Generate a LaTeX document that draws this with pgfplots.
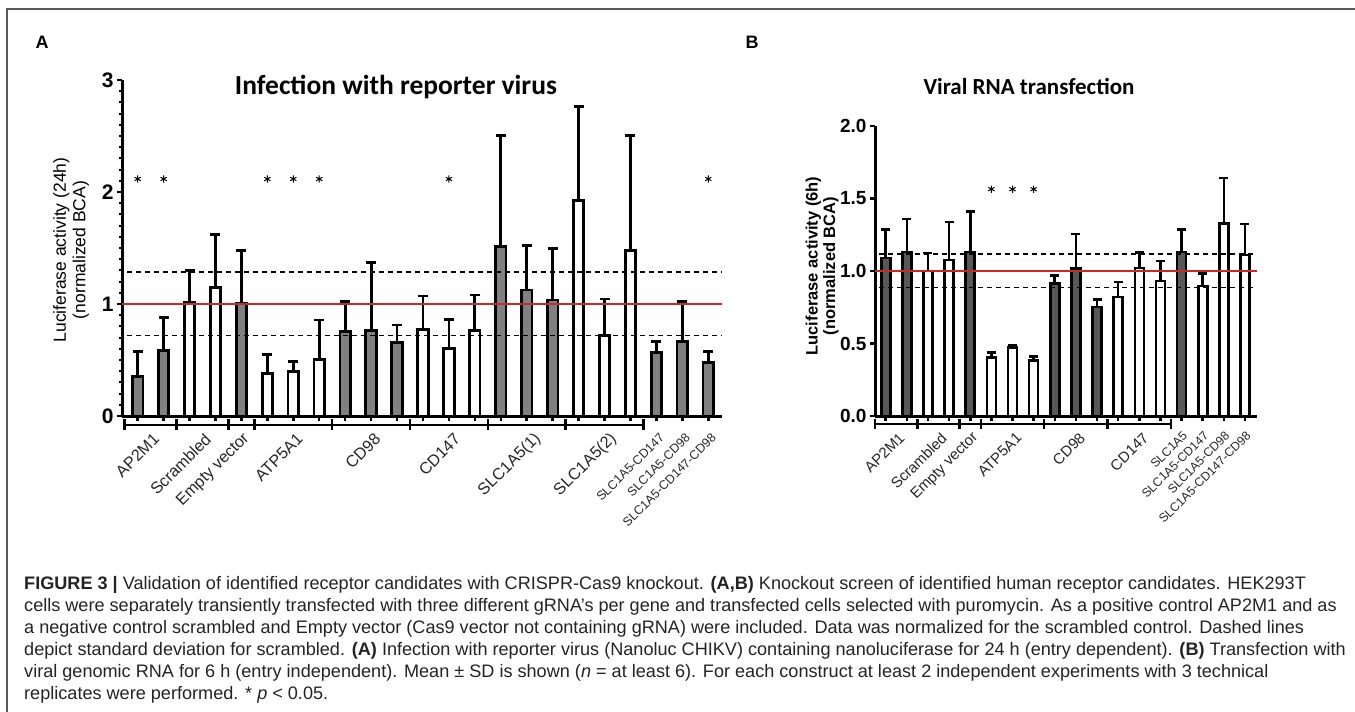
\documentclass[border=0pt]{standalone}
\usepackage{fontspec}
\setmainfont{Liberation Sans}
\newfontfamily\calfont{Carlito}
\usepackage{pgfplots}
\pgfplotsset{compat=1.18}
\usepackage{pgfplotstable}

\definecolor{grayA}{RGB}{128,128,128}
\definecolor{grayB}{RGB}{88,88,88}
\definecolor{refred}{RGB}{205,40,40}
\definecolor{framegray}{RGB}{90,90,90}
\definecolor{captext}{RGB}{35,35,35}
\newcommand{\fs}[1]{\fontsize{#1}{#1}\selectfont}

% Panel A: infection with reporter virus (24h)
\pgfplotstableread{
x y e
1 0.355 0.218
2 0.582 0.296
5 1.006 0.469
9 0.752 0.269
10 0.767 0.603
11 0.657 0.155
15 1.513 0.991
16 1.125 0.397
17 1.036 0.463
21 0.564 0.099
22 0.666 0.355
23 0.478 0.101
}\dataAgray
\pgfplotstableread{
x y e
3 1.010 0.286
4 1.146 0.478
6 0.379 0.173
7 0.400 0.090
8 0.507 0.350
12 0.773 0.299
13 0.606 0.257
14 0.767 0.314
18 1.925 0.835
19 0.716 0.329
20 1.475 1.032
}\dataAwhite
% Panel B: viral RNA transfection (6h)
\pgfplotstableread{
x y e
1 1.091 0.197
2 1.132 0.227
5 1.132 0.280
9 0.914 0.053
10 1.017 0.237
11 0.753 0.051
15 1.132 0.156
}\dataBgray
\pgfplotstableread{
x y e
3 1.001 0.124
4 1.075 0.264
6 0.404 0.032
7 0.471 0.018
8 0.381 0.028
12 0.822 0.103
13 1.022 0.105
14 0.932 0.136
16 0.896 0.087
17 1.327 0.315
18 1.109 0.214
}\dataBwhite

\pgfplotsset{
  panel/.style={
    scale only axis, anchor=south west, clip=false,
    axis x line=bottom, axis y line=left,
    axis line style={line width=3pt,-},
    tick align=outside, major tick length=5pt, minor tick length=3pt,
    every tick/.style={black, line width=2.5pt},
    every minor tick/.style={black, line width=2pt},
    xticklabels={},
    /pgf/number format/assume math mode=true,
  },
  barA/.style={ybar, bar shift=0pt, bar width=10.5pt, draw=black, line width=2.8pt,
    error bars/y dir=plus, error bars/y explicit,
    error bars/error bar style={line width=2.8pt, black},
    error bars/error mark options={rotate=90, mark size=5pt, line width=2.8pt, black}},
  barB/.style={ybar, bar shift=0pt, bar width=9pt, draw=black, line width=2.6pt,
    error bars/y dir=plus, error bars/y explicit,
    error bars/error bar style={line width=2.6pt, black},
    error bars/error mark options={rotate=90, mark size=4.5pt, line width=2.6pt, black}},
}

\begin{document}
\begin{tikzpicture}[x=1pt,y=1pt]
\useasboundingbox (0,0) rectangle (1355,-712);
\draw[framegray, line width=1.5pt] (7,-712) -- (7,-9) -- (1355,-9);
\node[font=\bfseries\fs{18}] at (42,-42) {A};
\node[font=\bfseries\fs{18}] at (752,-42) {B};
\node[font=\calfont\bfseries\fs{27.5}] at (396,-87) {Infection with reporter virus};
\node[font=\calfont\bfseries\fs{23}] at (1029,-86) {Viral RNA transfection};
\node[rotate=90, align=center, font=\fs{17.5}] at (71,-250) {Luciferase activity (24h)\\[2pt](normalized BCA)};
\node[rotate=90, align=center, font=\bfseries\fs{16.5}] at (822,-266) {Luciferase activity (6h)\\[1pt](normalized BCA)};

% ---------- Panel A ----------
\begin{axis}[panel, at={(122pt,-416pt)}, width=600pt, height=336pt,
  xmin=0.395, xmax=23.53, ymin=0, ymax=3,
  xtick={1,...,23}, ytick={0,1,2,3}, minor y tick num=9,
  yticklabel style={font=\bfseries\fs{21}},
]
\addplot[fill=grayA, barA] table[x=x, y=y, y error=e] {\dataAgray};
\addplot[fill=white, barA] table[x=x, y=y, y error=e] {\dataAwhite};
\addplot[refred, line width=1.5pt] coordinates {(0.395,1) (23.53,1)};
\addplot[black, line width=1.6pt, dash pattern=on 5pt off 4pt] coordinates {(0.6,1.287) (23.53,1.287)};
\addplot[black, line width=1.6pt, dash pattern=on 5pt off 4pt] coordinates {(0.6,0.719) (23.53,0.719)};
\addplot[only marks, mark=asterisk, mark size=3.6pt, line width=1pt, black]
  coordinates {(1,2.116) (2,2.116) (6,2.116) (7,2.116) (8,2.116) (13,2.116) (23,2.116)};
\draw[line width=2.5pt] ([yshift=-9pt]axis cs:0.5,0) -- ([yshift=-9pt]axis cs:20.5,0);
\pgfplotsinvokeforeach{0.5,2.5,4.5,5.5,8.5,11.5,14.5,17.5,20.5}{
  \draw[line width=2.5pt] ([yshift=-3pt]axis cs:#1,0) -- ([yshift=-14pt]axis cs:#1,0);
}
\begin{scope}[every node/.style={rotate=45, anchor=east, text=black!85, font=\fs{16.3}}]
\node at ([xshift=8pt,yshift=-18pt]axis cs:1.5,0) {AP2M1};
\node at ([xshift=8pt,yshift=-18pt]axis cs:3.5,0) {Scrambled};
\node at ([xshift=8pt,yshift=-18pt]axis cs:5,0) {Empty vector};
\node at ([xshift=9pt,yshift=-18pt]axis cs:7,0) {ATP5A1};
\node at ([xshift=9pt,yshift=-18pt]axis cs:10,0) {CD98};
\node at ([xshift=11pt,yshift=-18pt]axis cs:13,0) {CD147};
\node at ([xshift=14pt,yshift=-18pt]axis cs:16,0) {SLC1A5(1)};
\node at ([xshift=12pt,yshift=-18pt]axis cs:19,0) {SLC1A5(2)};
\end{scope}
\begin{scope}[every node/.style={rotate=45, anchor=east, text=black!85, font=\fs{12.5}}]
\node at ([xshift=8pt,yshift=-17pt]axis cs:21,0) {SLC1A5-CD147};
\node at ([xshift=8pt,yshift=-17pt]axis cs:22,0) {SLC1A5-CD98};
\node at ([xshift=8pt,yshift=-17pt]axis cs:23,0) {SLC1A5-CD147-CD98};
\end{scope}
\end{axis}

% ---------- Panel B ----------
\begin{axis}[panel, at={(875pt,-416pt)}, width=382pt, height=290pt,
  xmin=0.493, xmax=18.57, ymin=0, ymax=2,
  xtick={1,...,18}, ytick={0,0.5,1,1.5,2},
  yticklabel style={font=\bfseries\fs{19}, /pgf/number format/.cd, fixed, fixed zerofill, precision=1},
]
\addplot[fill=grayB, barB] table[x=x, y=y, y error=e] {\dataBgray};
\addplot[fill=white, barB] table[x=x, y=y, y error=e] {\dataBwhite};
\addplot[refred, line width=1.5pt] coordinates {(0.493,1) (18.57,1)};
\addplot[black, line width=1.6pt, dash pattern=on 5pt off 4pt] coordinates {(0.7,1.116) (18.57,1.116)};
\addplot[black, line width=1.6pt, dash pattern=on 5pt off 4pt] coordinates {(0.7,0.886) (18.57,0.886)};
\addplot[only marks, mark=asterisk, mark size=3.6pt, line width=1pt, black]
  coordinates {(6,1.564) (7,1.564) (8,1.564)};
\draw[line width=2.5pt] ([yshift=-8pt]axis cs:0.5,0) -- ([yshift=-8pt]axis cs:14.5,0);
\pgfplotsinvokeforeach{0.5,2.5,4.5,5.5,8.5,11.5,14.5}{
  \draw[line width=2.5pt] ([yshift=-3pt]axis cs:#1,0) -- ([yshift=-13pt]axis cs:#1,0);
}
\begin{scope}[every node/.style={rotate=45, anchor=east, text=black!85, font=\fs{15}}]
\node at ([xshift=8pt,yshift=-17pt]axis cs:1.5,0) {AP2M1};
\node at ([xshift=8pt,yshift=-17pt]axis cs:3.5,0) {Scrambled};
\node at ([xshift=8pt,yshift=-17pt]axis cs:5,0) {Empty vector};
\node at ([xshift=9pt,yshift=-17pt]axis cs:7,0) {ATP5A1};
\node at ([xshift=9pt,yshift=-17pt]axis cs:10,0) {CD98};
\node at ([xshift=9pt,yshift=-17pt]axis cs:13,0) {CD147};
\end{scope}
\begin{scope}[every node/.style={rotate=45, anchor=east, text=black!85, font=\fs{12.3}}]
\node at ([xshift=6pt,yshift=-15pt]axis cs:15,0) {SLC1A5};
\node at ([xshift=6pt,yshift=-15pt]axis cs:16,0) {SLC1A5-CD147};
\node at ([xshift=6pt,yshift=-15pt]axis cs:17,0) {SLC1A5-CD98};
\node at ([xshift=6pt,yshift=-15pt]axis cs:18,0) {SLC1A5-CD147-CD98};
\end{scope}
\end{axis}

% ---------- Caption ----------
\begin{scope}[every node/.style={anchor=west, text=captext, font=\fs{18.1}, inner sep=0pt}]
\node at (24,-585) {\textbf{FIGURE 3 |} Validation of identified receptor candidates with CRISPR-Cas9 knockout. \textbf{(A,B)} Knockout screen of identified human receptor candidates. HEK293T};
\node at (24,-607) {cells were separately transiently transfected with three different gRNA's per gene and transfected cells selected with puromycin. As a positive control AP2M1 and as};
\node at (24,-629) {a negative control scrambled and Empty vector (Cas9 vector not containing gRNA) were included. Data was normalized for the scrambled control. Dashed lines};
\node at (24,-651) {depict standard deviation for scrambled. \textbf{(A)} Infection with reporter virus (Nanoluc CHIKV) containing nanoluciferase for 24 h (entry dependent). \textbf{(B)} Transfection with};
\node at (24,-673) {viral genomic RNA for 6 h (entry independent). Mean {\textpm} SD is shown (\textit{n} = at least 6). For each construct at least 2 independent experiments with 3 technical};
\node at (24,-695) {replicates were performed. * \textit{p} < 0.05.};
\end{scope}
\end{tikzpicture}
\end{document}
